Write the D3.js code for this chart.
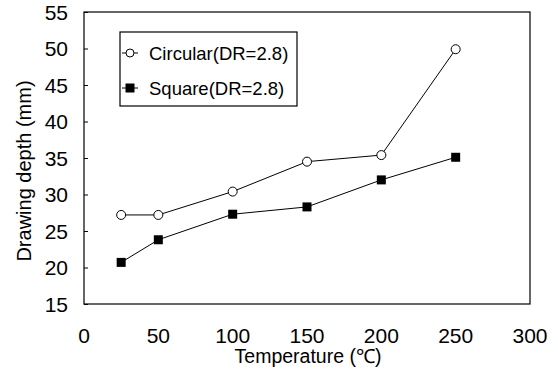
<!DOCTYPE html>
<html>
<head>
<meta charset="utf-8">
<script src="https://cdn.jsdelivr.net/npm/d3@7"></script>
<style>
  body { margin: 0; background: #fff; }
  svg text { font-family: "Liberation Sans", Arial, sans-serif; fill: #000; }
</style>
</head>
<body>
<svg id="chart" width="558" height="369"></svg>
<script>
const temps    = [25, 50, 100, 150, 200, 250];
const circular = [27.2, 27.2, 30.4, 34.5, 35.4, 49.9];
const square   = [20.7, 23.8, 27.3, 28.3, 32.0, 35.1];
const xTicks   = [0, 50, 100, 150, 200, 250, 300];
const yTicks   = [15, 20, 25, 30, 35, 40, 45, 50, 55];
const seriesNames = ["Circular(DR=2.8)", "Square(DR=2.8)"];

const svg = d3.select("#chart");
const m = { left: 84, right: 530, top: 12, bottom: 304 };

const x = d3.scaleLinear().domain([0, 300]).range([m.left, m.right]);
const y = d3.scaleLinear().domain([15, 55]).range([m.bottom, m.top]);

// frame
svg.append("rect")
  .attr("x", m.left).attr("y", m.top)
  .attr("width", m.right - m.left).attr("height", m.bottom - m.top)
  .attr("fill", "none").attr("stroke", "#000").attr("stroke-width", 1.2);

// y axis, small inward ticks
const yAxis = svg.append("g")
  .attr("transform", `translate(${m.left},0)`)
  .call(d3.axisRight(y).tickValues(yTicks).tickSize(4).tickFormat(""));
yAxis.select(".domain").remove();
yAxis.selectAll("line").attr("stroke", "#000");

svg.selectAll("text.ylab")
  .data(yTicks)
  .join("text")
  .attr("class", "ylab")
  .attr("x", 68)
  .attr("y", d => y(d) + 7.5)
  .attr("text-anchor", "end")
  .attr("font-size", 21)
  .text(d => d);

svg.selectAll("text.xlab")
  .data(xTicks)
  .join("text")
  .attr("class", "xlab")
  .attr("x", d => x(d))
  .attr("y", 343)
  .attr("text-anchor", "middle")
  .attr("font-size", 21)
  .text(d => d);

// axis titles
svg.append("text")
  .attr("x", x(150) + 1).attr("y", 363)
  .attr("text-anchor", "middle")
  .attr("font-size", 19.5)
  .text("Temperature (℃)");

svg.append("text")
  .attr("transform", "translate(31,171) rotate(-90)")
  .attr("text-anchor", "middle")
  .attr("font-size", 20)
  .text("Drawing depth (mm)");

const line = d3.line().x(d => x(d[0])).y(d => y(d[1]));
const circPts = temps.map((t, i) => [t, circular[i]]);
const sqPts   = temps.map((t, i) => [t, square[i]]);

svg.append("path").attr("d", line(circPts))
  .attr("fill", "none").attr("stroke", "#000").attr("stroke-width", 1);
svg.append("path").attr("d", line(sqPts))
  .attr("fill", "none").attr("stroke", "#000").attr("stroke-width", 1);

svg.selectAll("circle.pt")
  .data(circPts)
  .join("circle")
  .attr("class", "pt")
  .attr("cx", d => x(d[0])).attr("cy", d => y(d[1]))
  .attr("r", 4.5)
  .attr("fill", "#fff").attr("stroke", "#000").attr("stroke-width", 1);

svg.selectAll("rect.pt")
  .data(sqPts)
  .join("rect")
  .attr("class", "pt")
  .attr("x", d => x(d[0]) - 4.5).attr("y", d => y(d[1]) - 4.5)
  .attr("width", 9).attr("height", 9)
  .attr("fill", "#000");

// legend
const lg = svg.append("g");
lg.append("rect")
  .attr("x", 120).attr("y", 32).attr("width", 177).attr("height", 74)
  .attr("fill", "#fff").attr("stroke", "#000").attr("stroke-width", 1.2);

const legendY = [53, 88];
seriesNames.forEach((name, i) => {
  const cy = legendY[i];
  lg.append("line")
    .attr("x1", 122).attr("x2", 138).attr("y1", cy).attr("y2", cy)
    .attr("stroke", "#000").attr("stroke-width", 1);
  if (i === 0) {
    lg.append("circle").attr("cx", 130).attr("cy", cy).attr("r", 4)
      .attr("fill", "#fff").attr("stroke", "#000");
  } else {
    lg.append("rect").attr("x", 125.5).attr("y", cy - 4.5)
      .attr("width", 9).attr("height", 9).attr("fill", "#000");
  }
  lg.append("text")
    .attr("x", 149).attr("y", cy + 6.5)
    .attr("font-size", 18.5)
    .text(name);
});
</script>
</body>
</html>
